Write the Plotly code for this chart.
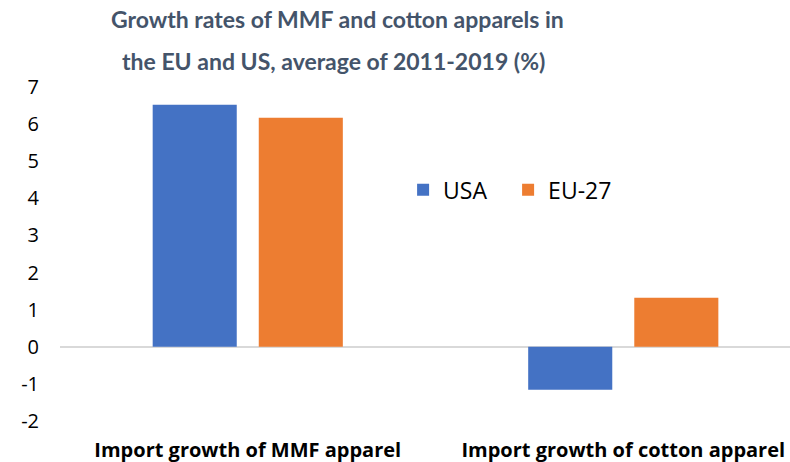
import plotly.graph_objects as go

categories = ["Import growth of MMF apparel", "Import growth of cotton apparel"]
usa = [6.52, -1.16]
eu27 = [6.17, 1.32]
y_ticks = [-2, -1, 0, 1, 2, 3, 4, 5, 6, 7]
y_tick_labels = ["-2", "-1", "0", "1", "2", "3", "4", "5", "6", "7"]
title_lines = ["Growth rates of MMF and cotton apparels in",
               "the EU and US, average of 2011-2019 (%)"]

BLUE = "#4472C4"
ORANGE = "#ED7D31"
FONT = "Open Sans"
TITLE_FONT = "Lato"

fig = go.Figure()
fig.add_trace(go.Bar(x=categories, y=usa, name="USA", marker_color=BLUE,
                     marker_line_width=0))
fig.add_trace(go.Bar(x=categories, y=eu27, name="EU-27", marker_color=ORANGE,
                     marker_line_width=0))

# two-line chart title, placed above the plot area
for line, (xp, yp) in zip(title_lines, [(0.38, 1.203), (0.375, 1.077)]):
    fig.add_annotation(
        text=f"<b>{line}</b>", x=xp, y=yp, xref="paper", yref="paper",
        xanchor="center", yanchor="middle", showarrow=False,
        font=dict(family=TITLE_FONT, size=23, color="#44546A"),
    )

fig.update_layout(
    width=790, height=462,
    margin=dict(l=60, r=0, t=87, b=41),
    paper_bgcolor="white", plot_bgcolor="white",
    barmode="group", bargap=0.435, bargroupgap=0.2075,
    legend=dict(
        orientation="h", x=0.47, xanchor="left", y=0.692, yanchor="middle",
        font=dict(family=FONT, size=23, color="#000000"),
        bgcolor="rgba(0,0,0,0)", entrywidth=60, entrywidthmode="pixels",
    ),
    xaxis=dict(
        type="category", range=[-0.5, 1.444], showgrid=False, showline=False,
        ticks="", tickfont=dict(family=FONT, size=20, color="#000000"),
        tickprefix="<b>", ticksuffix="</b>", ticklabelstandoff=15,
    ),
    yaxis=dict(
        range=[-2, 7], tickvals=y_ticks, ticktext=y_tick_labels,
        showgrid=False, showline=False,
        zeroline=True, zerolinecolor="#D9D9D9", zerolinewidth=1.5,
        ticks="", tickfont=dict(family=FONT, size=20, color="#000000"),
        ticklabelstandoff=20,
    ),
)

fig.write_html("out.html")
